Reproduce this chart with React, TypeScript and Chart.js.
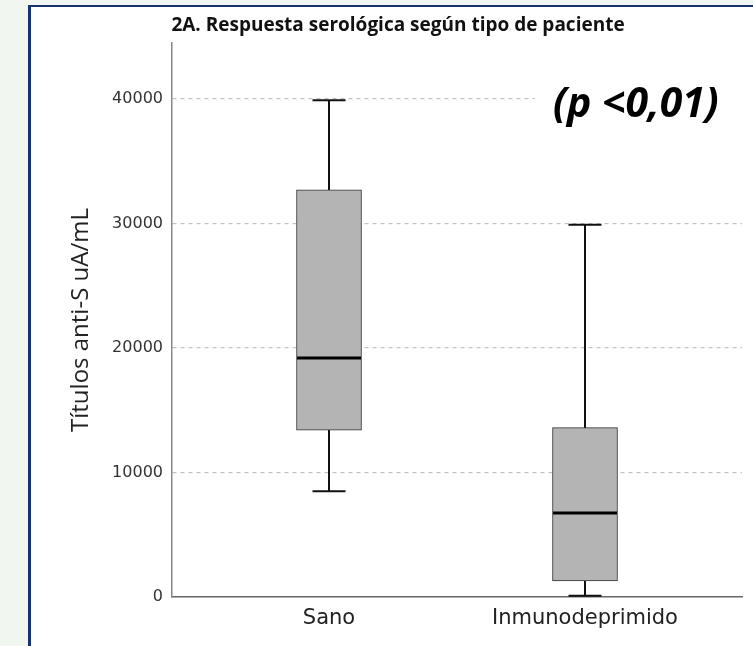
import React, { useEffect, useRef } from "react";
import { Chart, registerables } from "chart.js";

Chart.register(...registerables);

const categories = ["Sano", "Inmunodeprimido"];
const mins = [8500, 100];
const q1s = [13400, 1300];
const medians = [19200, 6750];
const q3s = [32700, 13600];
const maxs = [39900, 29900];
const yTicks = [0, 10000, 20000, 30000, 40000];

const titleText = "2A. Respuesta serológica según tipo de paciente";
const yTitle = "Títulos anti-S uA/mL";
const pText = "(p <0,01)";

export default function App() {
  const ref = useRef<HTMLCanvasElement | null>(null);

  useEffect(() => {
    if (!ref.current) return;
    const boxPlugin = {
      id: "boxExtras",
      beforeDatasetsDraw(chart: any) {
        const ctx = chart.ctx;
        const xs = chart.scales.x;
        const ys = chart.scales.y;
        ctx.save();
        ctx.strokeStyle = "#111";
        ctx.lineWidth = 2;
        ctx.setLineDash([]);
        categories.forEach((_, i) => {
          const cx = xs.getPixelForValue(i);
          ctx.beginPath();
          ctx.moveTo(cx, ys.getPixelForValue(mins[i]));
          ctx.lineTo(cx, ys.getPixelForValue(maxs[i]));
          ctx.stroke();
          [mins[i], maxs[i]].forEach((v) => {
            const py = ys.getPixelForValue(v);
            ctx.beginPath();
            ctx.moveTo(cx - 16.5, py);
            ctx.lineTo(cx + 16.5, py);
            ctx.stroke();
          });
        });
        ctx.restore();
      },
      afterDatasetsDraw(chart: any) {
        const ctx = chart.ctx;
        const xs = chart.scales.x;
        const ys = chart.scales.y;
        ctx.save();
        ctx.setLineDash([]);
        ctx.strokeStyle = "#000";
        ctx.lineWidth = 3;
        categories.forEach((_, i) => {
          const cx = xs.getPixelForValue(i);
          const py = ys.getPixelForValue(medians[i]);
          ctx.beginPath();
          ctx.moveTo(cx - 32, py);
          ctx.lineTo(cx + 32, py);
          ctx.stroke();
        });
        // p-value annotation with white background
        const ca = chart.chartArea;
        ctx.fillStyle = "#ffffff";
        ctx.fillRect(535, 84, ca.right - 535 + 1, 30);
        ctx.fillStyle = "#000";
        ctx.font = "italic bold 41px 'Open Sans'";
        ctx.textAlign = "left";
        ctx.textBaseline = "alphabetic";
        ctx.fillText(pText, 553, 117);
        // title
        ctx.font = "bold 19px 'Open Sans'";
        ctx.textAlign = "center";
        ctx.textBaseline = "middle";
        ctx.fillStyle = "#111";
        ctx.fillText(titleText, 398, 26);
        ctx.restore();
      },
    };

    const chart = new Chart(ref.current, {
      type: "bar",
      data: {
        datasets: [
          {
            data: categories.map((_, i) => ({ x: i, y: [q1s[i], q3s[i]] })) as any,
            backgroundColor: "#b4b4b4",
            borderColor: "#333",
            borderWidth: 1,
            borderSkipped: false,
            barThickness: 65,
          },
        ],
      },
      options: {
        animation: false,
        responsive: false,
        maintainAspectRatio: false,
        layout: { padding: { top: 43, right: 11, left: 0, bottom: 0 } },
        plugins: {
          legend: { display: false },
          tooltip: { enabled: false },
          title: { display: false },
        },
        scales: {
          x: {
            type: "linear",
            offset: false,
            min: -0.6133,
            max: 1.6133,
            afterFit: (s: any) => {
              s.height = 49;
            },
            afterBuildTicks: (s: any) => {
              s.ticks = categories.map((_, i) => ({ value: i }));
            },
            ticks: {
              callback: (v: any) => categories[v as number] ?? "",
              font: { family: "'DejaVu Sans'", size: 21 },
              color: "#222",
              padding: 9,
              maxRotation: 0,
              autoSkip: false,
            },
            grid: { display: false, drawTicks: false },
            border: { display: true, color: "#666", width: 1.5 },
          },
          y: {
            min: 0,
            max: 44500,
            afterFit: (s: any) => {
              s.width = 172;
            },
            afterBuildTicks: (s: any) => {
              s.ticks = yTicks.map((v) => ({ value: v }));
            },
            ticks: {
              font: { family: "'DejaVu Sans'", size: 16 },
              color: "#333",
              padding: 9,
              callback: (v: any) => String(v),
            },
            grid: {
              color: (c: any) => (c.tick && c.tick.value === 0 ? "rgba(0,0,0,0)" : "#c2c2c2"),
              lineWidth: 1.2,
              drawTicks: false,
            },
            border: { display: true, color: "#888", width: 1.5, dash: [4, 4] },
            title: {
              display: true,
              text: yTitle,
              font: { family: "'Open Sans'", size: 24 },
              color: "#222",
              padding: { top: 67, bottom: 0 },
            },
          },
        },
      },
      plugins: [boxPlugin],
    });
    return () => chart.destroy();
  }, []);

  return (
    <div style={{ position: "fixed", left: 0, top: 0, width: 753, height: 646, background: "#f1f6f1", overflow: "hidden" }}>
      <div
        style={{
          position: "absolute",
          left: 28,
          top: 5,
          width: 760,
          height: 700,
          background: "#ffffff",
          borderLeft: "3px solid #16336f",
          borderTop: "2.5px solid #16336f",
          boxSizing: "border-box",
        }}
      />
      <canvas ref={ref} width={753} height={646} style={{ position: "absolute", left: 0, top: 0 }} />
    </div>
  );
}
